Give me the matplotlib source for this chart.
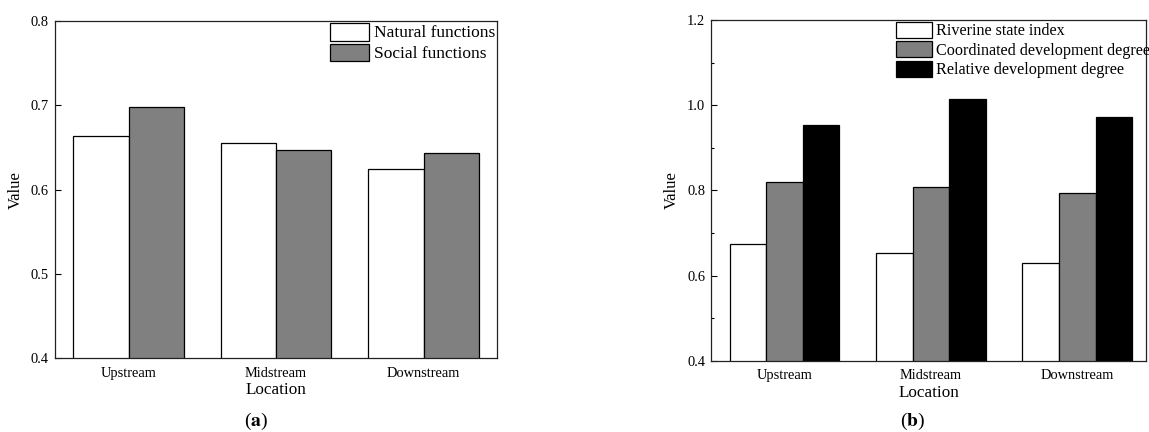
import matplotlib
matplotlib.use("Agg")
import matplotlib.pyplot as plt
from matplotlib.ticker import MultipleLocator
import numpy as np

plt.rcParams['font.family'] = ['Liberation Serif', 'DejaVu Serif']
plt.rcParams['mathtext.fontset'] = 'stix'

locations = ['Upstream', 'Midstream', 'Downstream']

# panel (a)
natural_functions = [0.664, 0.655, 0.624]
social_functions = [0.698, 0.647, 0.644]

# panel (b)
riverine_state = [0.673, 0.652, 0.629]
coordinated_dev = [0.820, 0.807, 0.793]
relative_dev = [0.954, 1.015, 0.973]

fig = plt.figure(figsize=(11.49, 4.32), dpi=100)
ax1 = fig.add_axes([0.0477, 0.1706, 0.3852, 0.7808])
ax2 = fig.add_axes([0.6192, 0.1650, 0.3782, 0.7887])

x = np.arange(len(locations))

# ---- (a)
w = 0.375
ax1.bar(x - w/2, natural_functions, w, color='white', edgecolor='black', linewidth=0.9, label='Natural functions')
ax1.bar(x + w/2, social_functions, w, color='#808080', edgecolor='black', linewidth=0.9, label='Social functions')
ax1.set_xlim(-0.5, 2.5)
ax1.set_ylim(0.4, 0.8)
ax1.yaxis.set_major_locator(MultipleLocator(0.1))
ax1.legend(loc='upper right', frameon=False, fontsize=12.5, handlelength=2.2, handleheight=1.2,
           labelspacing=0.12, handletextpad=0.33, borderpad=0.05, borderaxespad=0.05)

# ---- (b)
w = 0.25
ax2.bar(x - w, riverine_state, w, color='white', edgecolor='black', linewidth=0.9, label='Riverine state index')
ax2.bar(x, coordinated_dev, w, color='#808080', edgecolor='black', linewidth=0.9, label='Coordinated development degree')
ax2.bar(x + w, relative_dev, w, color='black', edgecolor='black', linewidth=0.9, label='Relative development degree')
ax2.set_xlim(-0.5, 2.47)
ax2.set_ylim(0.4, 1.2)
ax2.yaxis.set_major_locator(MultipleLocator(0.2))
ax2.yaxis.set_minor_locator(MultipleLocator(0.1))
ax2.legend(loc='upper left', bbox_to_anchor=(0.42, 1.0), frameon=False, fontsize=11.6, handlelength=2.24,
           handleheight=1.15, labelspacing=0.13, handletextpad=0.27, borderpad=0.05, borderaxespad=0.05)

for ax in (ax1, ax2):
    ax.set_xticks(x)
    ax.set_xticklabels(locations)
    ax.yaxis.set_major_formatter(matplotlib.ticker.FormatStrFormatter('%.1f'))
    ax.tick_params(axis='x', length=0, pad=6, labelsize=10.4)
    ax.tick_params(axis='y', which='major', direction='in', length=4, width=0.8, pad=4.5, labelsize=10.4)
    ax.tick_params(axis='y', which='minor', direction='in', length=2, width=0.8)
    ax.set_xlabel('Location', fontsize=12.3, labelpad=2)
    ax.set_ylabel('Value', fontsize=12, labelpad=5)
    for s in ax.spines.values():
        s.set_linewidth(0.9)
        s.set_color('#222222')

fig.text(256/1149, 1 - 421/432, r'($\mathbf{a}$)', ha='center', va='center', fontsize=14)
fig.text(913/1149, 1 - 421/432, r'($\mathbf{b}$)', ha='center', va='center', fontsize=14)

fig.savefig('out.png', dpi=100)
